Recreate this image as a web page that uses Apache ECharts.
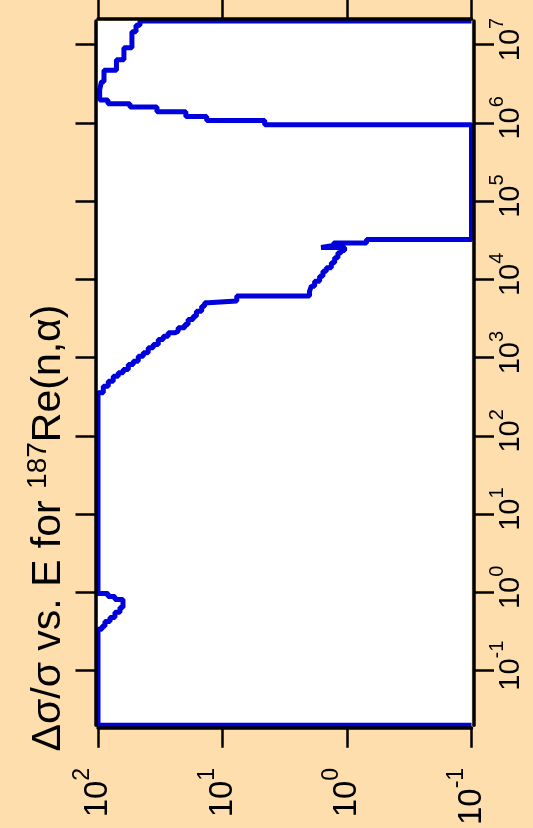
<!DOCTYPE html>
<html style="height: 100%">
    <head>
        <title>Δσ/σ vs. E for 187Re(n,α)</title>
        <meta charset="utf-8">
    </head>
    <body style="height: 100%; margin: 0; background: #ffdead">
        <div id="container" style="height: 100%"></div>

        <script type="text/javascript" src="https://cdn.jsdelivr.net/npm/echarts@6.0.0/dist/echarts.min.js"></script>
        <script type="text/javascript">
            // bin lower edges (eV) and relative uncertainty (%) per bin
            var energy = [0.02, 0.02, 0.337, 0.368, 0.426, 0.479, 0.556, 0.643, 0.814, 0.889, 0.971,
                355, 431, 500, 579, 640, 705, 816, 900, 1042, 1151, 1334, 1470, 1702, 1876, 2074,
                2174, 2403, 2649, 3067, 3380, 3915, 4530, 5010, 5285, 6120,
                7046, 8166, 9460, 10960, 12690, 14030, 16250, 18830, 21800,
                23330, 25480, 27020, 29100, 32220,
                9.48e5, 1.067e6, 1.2e6, 1.39e6, 1.587e6, 1.758e6, 1.95e6, 2.655e6, 3.357e6,
                4.71e6, 6.41e6, 9.12e6, 1.462e7, 1.77e7, 2e7];
            var relErr = [0.1, 100, 92.9, 87.9, 80.1, 73.1, 66.6, 63.0, 73.1, 83.1, 100,
                90.7, 82.7, 75.4, 68.8, 62.7, 57.1, 52.1, 47.5, 43.3, 39.5, 36.0, 32.8, 29.9, 27.3, 24.1,
                22.7, 20.1, 18.9, 17.2, 16.2, 14.7, 13.9, 13.0, 7.68, 2.0,
                1.933, 1.82, 1.66, 1.561, 1.466, 1.336, 1.257, 1.183, 1.111,
                1.045, 1.614, 1.281, 0.697, 0.1,
                4.58, 13.4, 19.7, 33.6, 55.4, 83.2, 97, 93.7, 89.5,
                71.1, 61.9, 53.4, 49.5, 46.0, 0.1];
            var eTicks = [0.1, 1, 10, 100, 1000, 1e4, 1e5, 1e6, 1e7];
            var sTicks = [0.1, 1, 10, 100];

            var font = "'Liberation Sans', Arial, sans-serif";
            var lineCol = '#0000dd';

            var dom = document.getElementById("container");
            var myChart = echarts.init(dom);

            var data = energy.map(function (e, i) {
                return [relErr[i], e];
            });

            function expLabel(v) {
                var e = Math.round(Math.log10(v));
                return '{b|10}{s|' + e + '}';
            }

            var frame = { show: true, lineStyle: { color: '#000', width: 3.5 } };
            function tick(vals) {
                return { show: true, inside: false, length: 20, customValues: vals, lineStyle: { color: '#000', width: 2.5 } };
            }

            var option = {
                backgroundColor: '#ffdead',
                animation: false,
                grid: {
                    left: 98,
                    top: 21,
                    right: 61.5,
                    bottom: 101.5,
                    show: true,
                    backgroundColor: '#fff',
                    borderWidth: 0
                },
                xAxis: [
                    {
                        type: 'log',
                        position: 'bottom',
                        inverse: true,
                        min: 0.1,
                        max: 100,
                        offset: 2.5,
                        z: 5,
                        axisLine: frame,
                        axisTick: tick(sTicks),
                        splitLine: { show: false },
                        axisLabel: {
                            customValues: sTicks,
                            rotate: 90,
                            margin: 40,
                            color: '#000',
                            formatter: expLabel,
                            rich: {
                                b: { fontSize: 33, fontFamily: font, color: '#000' },
                                s: { fontSize: 23, fontFamily: font, color: '#000', verticalAlign: 'top', padding: [0, 0, 30, 0] }
                            }
                        }
                    },
                    {
                        type: 'log',
                        position: 'top',
                        inverse: true,
                        min: 0.1,
                        max: 100,
                        offset: 2.5,
                        z: 5,
                        axisLine: frame,
                        axisTick: tick(sTicks),
                        splitLine: { show: false },
                        axisLabel: { show: false }
                    }
                ],
                yAxis: [
                    {
                        type: 'log',
                        position: 'right',
                        min: 0.02,
                        max: 2e7,
                        offset: 2.5,
                        z: 5,
                        axisLine: frame,
                        axisTick: tick(eTicks),
                        splitLine: { show: false },
                        axisLabel: {
                            customValues: eTicks,
                            rotate: 90,
                            margin: 13,
                            padding: [0, 0, 0, 10],
                            color: '#000',
                            formatter: expLabel,
                            rich: {
                                b: { fontSize: 29, fontFamily: font, color: '#000' },
                                s: { fontSize: 20, fontFamily: font, color: '#000', verticalAlign: 'top', padding: [0, 0, 28, 0] }
                            }
                        }
                    },
                    {
                        type: 'log',
                        position: 'left',
                        min: 0.02,
                        max: 2e7,
                        offset: 2.5,
                        z: 5,
                        axisLine: frame,
                        axisTick: tick(eTicks),
                        splitLine: { show: false },
                        axisLabel: { show: false }
                    }
                ],
                graphic: [
                    {
                        type: 'text',
                        x: 49,
                        y: 528,
                        rotation: Math.PI / 2,
                        style: {
                            text: '{t|Δσ/σ vs. E for }{s|187}{t|Re(n,α)}',
                            align: 'center',
                            verticalAlign: 'middle',
                            fill: '#000',
                            rich: {
                                t: { fontSize: 41, fontFamily: font, fill: '#000' },
                                s: { fontSize: 28, fontFamily: font, fill: '#000', verticalAlign: 'top', padding: [0, 0, 22, 0] }
                            }
                        }
                    }
                ],
                series: [
                    {
                        type: 'line',
                        xAxisIndex: 0,
                        yAxisIndex: 0,
                        step: 'start',
                        symbol: 'none',
                        data: data,
                        lineStyle: { color: lineCol, width: 5 }
                    }
                ]
            };

            if (option && typeof option === 'object') {
                myChart.setOption(option);
            }
            window.onresize = function () {
                myChart.resize();
            };
        </script>
    </body>
</html>
